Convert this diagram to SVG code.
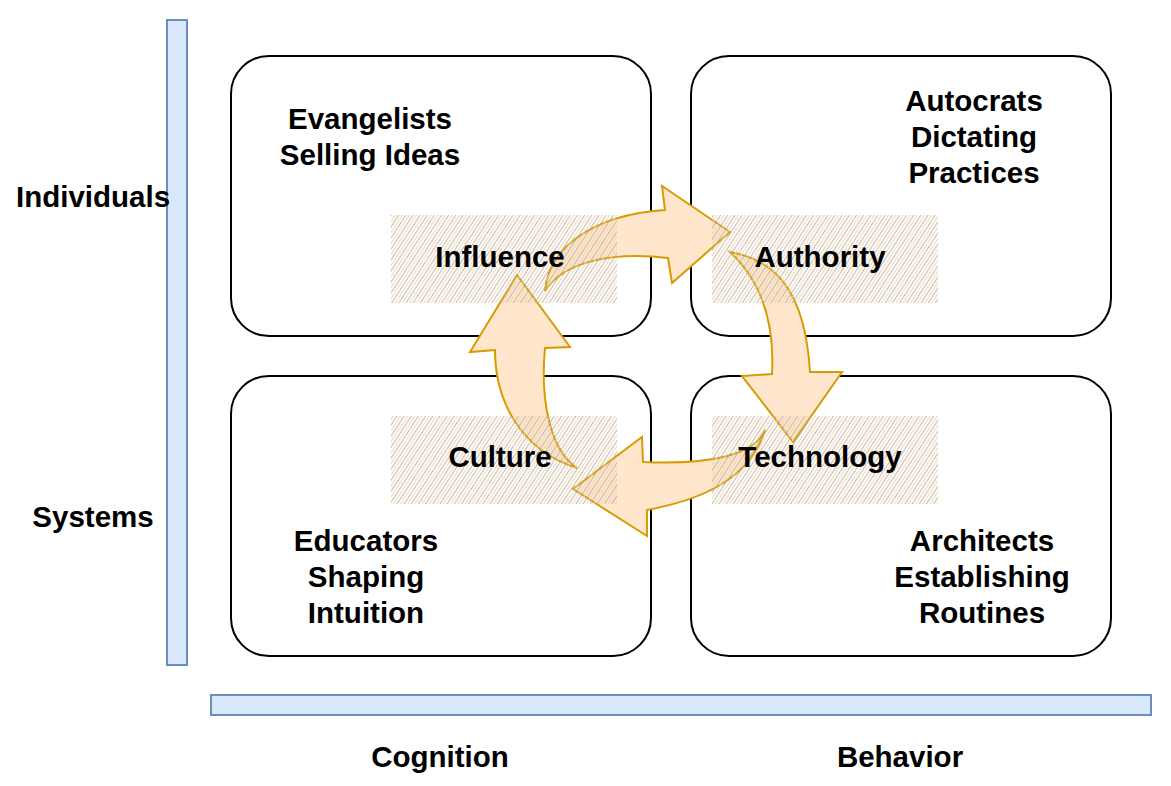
<svg xmlns="http://www.w3.org/2000/svg" width="1171" height="786" viewBox="0 0 1171 786">
<defs>
<style>
.bar{fill:#dae8fc;stroke:#6c8ebf;stroke-width:2}
.box{fill:#ffffff;stroke:#000000;stroke-width:2}
.arr{fill:#ffe6cc;stroke:#d79b00;stroke-width:2;stroke-linejoin:miter}
.hatch{fill:url(#hp);stroke:none}
text{font-family:"Liberation Sans",Arial,Helvetica,sans-serif;font-weight:bold;font-size:29.5px;fill:#000;text-anchor:middle}
</style>
<pattern id="hp" width="6" height="6" patternUnits="userSpaceOnUse" patternTransform="rotate(33)">
<line x1="1.5" y1="0" x2="1.5" y2="6" stroke="#b4b4b4" stroke-width="1.1" stroke-opacity="0.85"/>
<line x1="4.5" y1="0" x2="4.5" y2="6" stroke="#f6d3a2" stroke-width="1.2" stroke-opacity="0.85"/>
</pattern>
</defs>
<g id="axes">
<rect id="axis-v" class="bar" x="167" y="20" width="20" height="645"/>
<rect id="axis-h" class="bar" x="211" y="695" width="940" height="20"/>
</g>
<g id="box-tl"><rect class="box" x="231" y="56" width="420" height="280" rx="38" ry="38"/></g>
<g id="box-tr"><rect class="box" x="691" y="56" width="420" height="280" rx="38" ry="38"/></g>
<g id="box-bl"><rect class="box" x="231" y="376" width="420" height="280" rx="38" ry="38"/></g>
<g id="box-br"><rect class="box" x="691" y="376" width="420" height="280" rx="38" ry="38"/></g>
<g id="connectors">
<path id="arr-influence-authority" class="arr" d="M545,291 C548,250 590,215 665,210 L662,186 L730,232 L672,283 L668,258 C615,252 565,260 545,291 Z"/>
<path id="arr-authority-technology" class="arr" d="M730,252 C775,260 805,290 810,372 L842,372 L793,442 L742,376 L772,374 C775,320 760,280 730,252 Z"/>
<path id="arr-technology-culture" class="arr" d="M765,430 C755,455 710,465 643,462 L642,437 L573,489 L647,536 L647,510 C700,500 750,480 765,430 Z"/>
<path id="arr-culture-influence" class="arr" d="M577,468 C520,450 495,400 495,350 L470,352 L517,275 L570,347 L545,348 C540,400 550,450 577,468 Z"/>
</g>
<g id="influence"><rect class="hatch" x="391" y="215" width="226" height="88"/><text x="500" y="267">Influence</text></g>
<g id="authority"><rect class="hatch" x="712" y="215" width="226" height="88"/><text x="820" y="267">Authority</text></g>
<g id="culture"><rect class="hatch" x="391" y="416" width="226" height="88"/><text x="500" y="467">Culture</text></g>
<g id="technology"><rect class="hatch" x="712" y="416" width="226" height="88"/><text x="820" y="467">Technology</text></g>
<g id="label-tl"><text x="370" y="129">Evangelists</text><text x="370" y="165">Selling Ideas</text></g>
<g id="label-tr"><text x="974" y="111">Autocrats</text><text x="974" y="147">Dictating</text><text x="974" y="183">Practices</text></g>
<g id="label-bl"><text x="366" y="551">Educators</text><text x="366" y="587">Shaping</text><text x="366" y="623">Intuition</text></g>
<g id="label-br"><text x="982" y="551">Architects</text><text x="982" y="587">Establishing</text><text x="982" y="623">Routines</text></g>
<g id="axis-labels">
<text x="93" y="207">Individuals</text>
<text x="93" y="527">Systems</text>
<text x="440" y="767">Cognition</text>
<text x="900" y="767">Behavior</text>
</g>
</svg>
